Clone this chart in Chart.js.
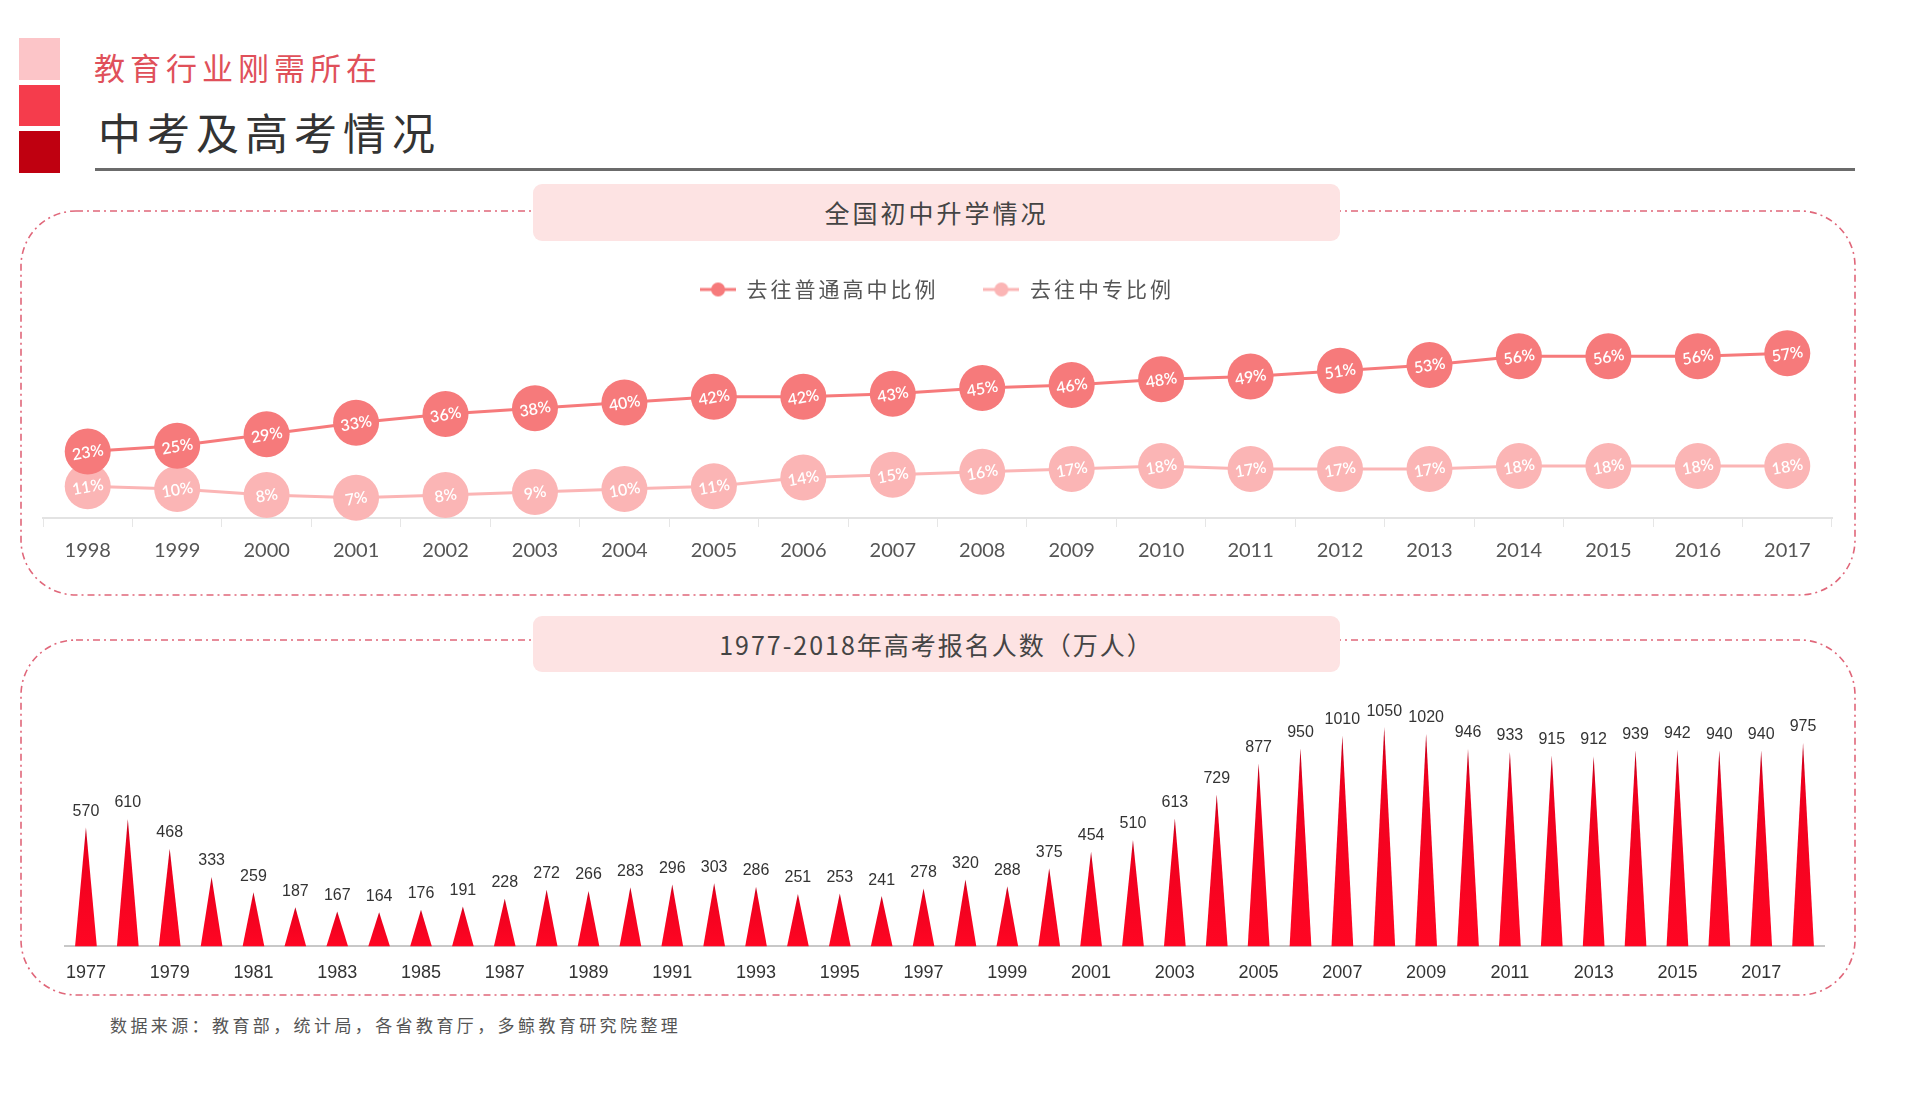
<!DOCTYPE html>
<html>
<head>
<meta charset="utf-8">
<script src="https://cdn.jsdelivr.net/npm/chart.js@4.4.1/dist/chart.umd.min.js"></script>
<style>
  body { margin: 0; width: 1909px; height: 1096px; background: #fff; position: relative; overflow: hidden;
         font-family: "Noto Sans CJK SC", "Noto Sans", sans-serif; }
  .sq { position: absolute; left: 19px; width: 41px; }
  .abs { position: absolute; }
  .box { position: absolute; left: 533px; width: 807px; background: #fde3e3; border-radius: 9px;
         text-align: center; color: #444; font-size: 25px; letter-spacing: 3px; }
</style>
</head>
<body>

<div class="sq" style="top:38px;height:42px;background:#fcc5c8"></div>
<div class="sq" style="top:85px;height:41px;background:#f53c4c"></div>
<div class="sq" style="top:131px;height:42px;background:#bf0010"></div>

<div class="abs" style="left:94px;top:44px;font-size:31px;color:#e0505a;letter-spacing:5px">教育行业刚需所在</div>
<div class="abs" style="left:98px;top:100px;font-size:43px;color:#333;letter-spacing:6px">中考及高考情况</div>
<div class="abs" style="left:95px;top:168px;width:1760px;height:3px;background:#6b6b6b"></div>

<svg class="abs" style="left:0;top:0" width="1909" height="1096">
  <rect x="21" y="211" width="1834" height="384" rx="55" fill="none" stroke="#e0677a" stroke-width="1.6" stroke-dasharray="7 4 2 4"/>
  <rect x="21" y="640" width="1834" height="355" rx="55" fill="none" stroke="#e0677a" stroke-width="1.6" stroke-dasharray="7 4 2 4"/>
</svg>

<div class="box" style="top:184px;height:57px;line-height:57px">全国初中升学情况</div>
<div class="box" style="top:616px;height:56px;line-height:56px;letter-spacing:2px">1977-2018年高考报名人数（万人）</div>

<div class="abs" style="left:20px;top:265px;width:1835px;height:310px"><canvas id="lineChart"></canvas></div>
<div class="abs" style="left:21px;top:687px;width:1834px;height:305px"><canvas id="barChart"></canvas></div>

<div class="abs" style="left:110px;top:1012px;font-size:17px;color:#555;letter-spacing:3.4px">数据来源：教育部，统计局，各省教育厅，多鲸教育研究院整理</div>

<script>
'use strict';

// middle school -> high school / vocational school
let years = ['1998','1999','2000','2001','2002','2003','2004','2005','2006','2007',
             '2008','2009','2010','2011','2012','2013','2014','2015','2016','2017'];
let highSchoolPct = [23,25,29,33,36,38,40,42,42,43,45,46,48,49,51,53,56,56,56,57];
let vocationalPct = [11,10,8,7,8,9,10,11,14,15,16,17,18,17,17,17,18,18,18,18];

// gaokao applicants (10k people)
let examYears = [];
for (let y = 1977; y <= 2018; y++) examYears.push(String(y));
let applicants = [570,610,468,333,259,187,167,164,176,191,228,272,266,283,296,303,286,251,253,241,
                  278,320,288,375,454,510,613,729,877,950,1010,1050,1020,946,933,915,912,939,942,940,940,975];

const darkPink = '#f67a7b';
const lightPink = '#fbb5b5';

// legend marker: short line with a dot in the middle
function legendMarker(color) {
  let c = document.createElement('canvas');
  c.width = 36; c.height = 16;
  let g = c.getContext('2d');
  g.strokeStyle = color; g.lineWidth = 3;
  g.beginPath(); g.moveTo(0, 8); g.lineTo(36, 8); g.stroke();
  g.fillStyle = color;
  g.beginPath(); g.arc(18, 8, 7, 0, Math.PI * 2); g.fill();
  return c;
}

// white % labels inside the circles
const pctLabels = {
  id: 'pctLabels',
  afterDatasetsDraw(chart) {
    let ctx = chart.ctx;
    chart.data.datasets.forEach((ds, i) => {
      chart.getDatasetMeta(i).data.forEach((pt, j) => {
        ctx.save();
        ctx.translate(pt.x, pt.y);
        ctx.rotate(-0.17);
        ctx.fillStyle = '#fff';
        ctx.font = '600 16px Lato, sans-serif';
        ctx.textAlign = 'center';
        ctx.textBaseline = 'middle';
        ctx.fillText(ds.data[j] + '%', 0, 1);
        ctx.restore();
      });
    });
  }
};

// spread out the legend text only (both when measuring and drawing)
const legendSpacing = {
  id: 'legendSpacing',
  beforeLayout(chart) {
    let lg = chart.legend;
    if (!lg || lg._spaced) return;
    ['fit', 'draw'].forEach(fn => {
      let orig = lg[fn];
      lg[fn] = function () {
        chart.ctx.save();
        chart.ctx.letterSpacing = '3px';
        let r = orig.apply(this, arguments);
        chart.ctx.restore();
        return r;
      };
    });
    lg._spaced = true;
  }
};

new Chart(document.getElementById('lineChart'), {
  type: 'line',
  data: {
    labels: years,
    datasets: [
      { label: '去往普通高中比例', data: highSchoolPct, borderColor: darkPink, backgroundColor: darkPink,
        borderWidth: 3, pointRadius: 23, pointHoverRadius: 23, pointBorderWidth: 0, clip: false },
      { label: '去往中专比例', data: vocationalPct, borderColor: lightPink, backgroundColor: lightPink,
        borderWidth: 3, pointRadius: 23, pointHoverRadius: 23, pointBorderWidth: 0, clip: false }
    ]
  },
  options: {
    responsive: true,
    maintainAspectRatio: false,
    animation: false,
    layout: { padding: { left: 21, right: 22, top: 0, bottom: 0 } },
    plugins: {
      tooltip: { enabled: false },
      legend: {
        position: 'top',
        labels: {
          usePointStyle: true,
          pointStyleWidth: 36,
          color: '#555',
          font: { size: 21, family: '"Noto Sans CJK SC", sans-serif' },
          padding: 14,
          generateLabels(chart) {
            let items = Chart.defaults.plugins.legend.labels.generateLabels(chart);
            items.forEach((it, i) => {
              it.pointStyle = legendMarker(i === 0 ? darkPink : lightPink);
              if (i === 0) it.text = it.text + '    ';
            });
            return items;
          }
        }
      }
    },
    scales: {
      x: {
        offset: true,
        grid: { offset: true, drawOnChartArea: false, color: '#e6e6e6', tickLength: 9 },
        border: { color: '#e3e3e3', width: 2 },
        ticks: { color: '#555', font: { size: 20, family: 'Lato, sans-serif' }, padding: 12 }
      },
      y: { display: false, min: 0, max: 72 }
    }
  },
  plugins: [pctLabels, legendSpacing]
});

// triangle "bars"
class TriBar extends Chart.BarElement {
  draw(ctx) {
    let { x, y, base, width } = this.getProps(['x', 'y', 'base', 'width']);
    let grad = ctx.createLinearGradient(0, y, 0, base);
    grad.addColorStop(0, '#b8001a');
    grad.addColorStop(0.18, '#ee001e');
    grad.addColorStop(1, '#ff0623');
    ctx.save();
    ctx.fillStyle = grad;
    ctx.beginPath();
    ctx.moveTo(x - width / 2, base);
    ctx.lineTo(x, y);
    ctx.lineTo(x + width / 2, base);
    ctx.closePath();
    ctx.fill();
    ctx.restore();
  }
}
TriBar.id = 'triBar';
TriBar.defaults = Chart.BarElement.defaults;

class TriBarController extends Chart.BarController {}
TriBarController.id = 'triBar';
TriBarController.defaults = Object.assign({}, Chart.BarController.defaults, { dataElementType: 'triBar' });
TriBarController.overrides = Chart.BarController.overrides;

Chart.register(TriBar, TriBarController);

const valueLabels = {
  id: 'valueLabels',
  afterDatasetsDraw(chart) {
    let ctx = chart.ctx;
    let meta = chart.getDatasetMeta(0);
    ctx.save();
    ctx.fillStyle = '#333';
    ctx.font = '16px "Liberation Sans Narrow", "Liberation Sans", sans-serif';
    ctx.textAlign = 'center';
    ctx.textBaseline = 'bottom';
    meta.data.forEach((bar, i) => {
      ctx.fillText(applicants[i], bar.x, bar.y - 8);
    });
    ctx.restore();
  }
};

new Chart(document.getElementById('barChart'), {
  type: 'triBar',
  data: {
    labels: examYears,
    datasets: [{ data: applicants, backgroundColor: '#f5001e', barPercentage: 0.52, categoryPercentage: 1 }]
  },
  options: {
    responsive: true,
    maintainAspectRatio: false,
    animation: false,
    layout: { padding: { left: 44, right: 31, top: 10, bottom: 0 } },
    plugins: { legend: { display: false }, tooltip: { enabled: false } },
    scales: {
      x: {
        grid: { display: false },
        border: { color: '#c8c8c8', width: 2 },
        ticks: {
          autoSkip: false, maxRotation: 0, color: '#333', padding: 8,
          font: { size: 18, family: '"Liberation Sans Narrow", "Liberation Sans", sans-serif' },
          callback: (v, i) => (i % 2 === 0 ? examYears[i] : '')
        }
      },
      y: { display: false, min: 0, max: 1195 }
    }
  },
  plugins: [valueLabels]
});
</script>
</body>
</html>
